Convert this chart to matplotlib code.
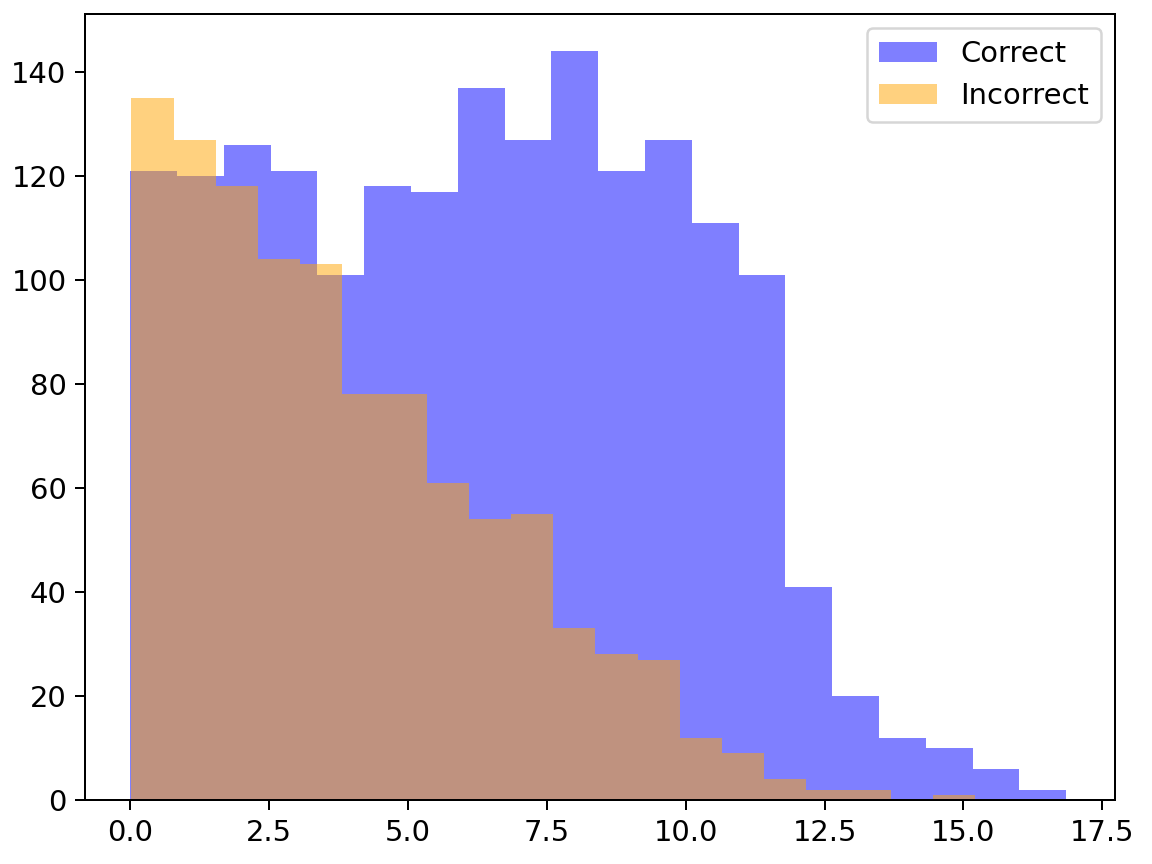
import numpy as np
import matplotlib
matplotlib.use('Agg')
import matplotlib.pyplot as plt

# bin counts (20 bins each)
correct_counts = [121, 120, 126, 121, 101, 118, 117, 137, 127, 144,
                  121, 127, 111, 101, 41, 20, 12, 10, 6, 2]
incorrect_counts = [135, 127, 118, 104, 103, 78, 78, 61, 54, 55,
                    33, 28, 27, 12, 9, 4, 2, 2, 0, 1]

# data ranges of each series
correct_range = (0.0, 16.85)
incorrect_range = (0.02, 15.21)

correct_edges = np.linspace(*correct_range, len(correct_counts) + 1)
incorrect_edges = np.linspace(*incorrect_range, len(incorrect_counts) + 1)

plt.rcParams['font.size'] = 11.6
plt.rcParams['xtick.major.size'] = 4
plt.rcParams['ytick.major.size'] = 4

fig, ax = plt.subplots(figsize=(6.4, 4.8), dpi=180)
fig.subplots_adjust(left=0.074, right=0.968, top=0.984, bottom=0.074)

ax.hist(correct_edges[:-1], bins=correct_edges, weights=correct_counts,
        alpha=0.5, color='blue', label='Correct')
ax.hist(incorrect_edges[:-1], bins=incorrect_edges, weights=incorrect_counts,
        alpha=0.5, color='orange', label='Incorrect')
ax.set_xlim(-0.81, 17.73)
ax.legend(loc='upper right')

fig.savefig('out.png')
